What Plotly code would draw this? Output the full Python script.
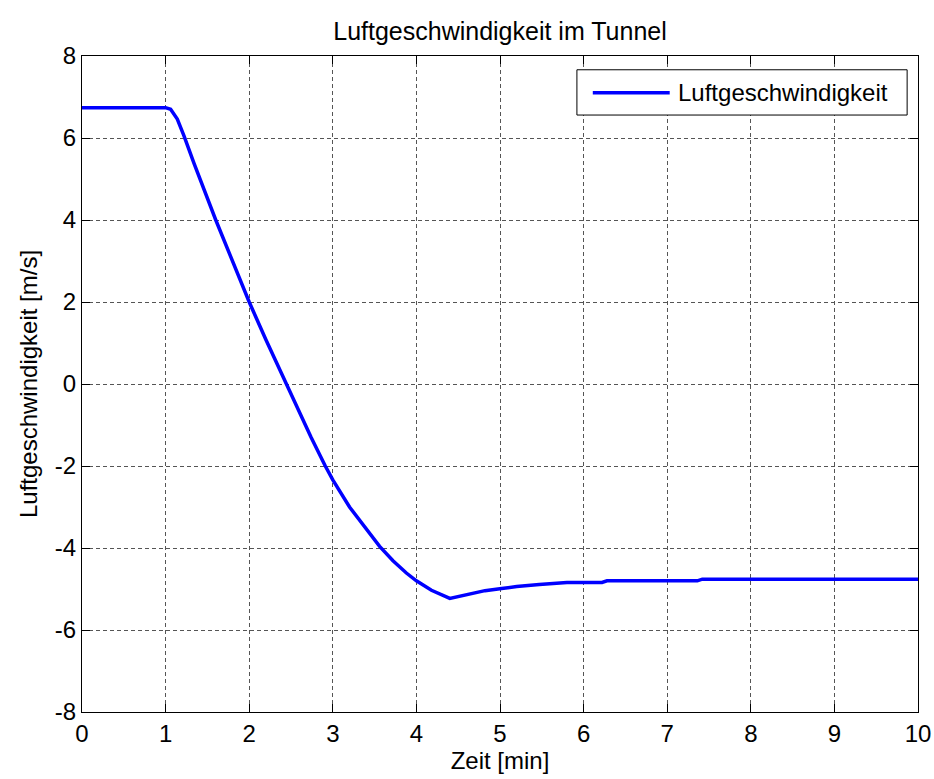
import plotly.graph_objects as go

zeit_min = [0, 1.0, 1.06, 1.14, 1.22, 1.34, 1.60, 1.80, 2.0, 2.2, 2.44, 2.58, 2.74,
            2.91, 3.0, 3.2, 3.4, 3.56, 3.72, 3.88, 4.0, 4.18, 4.40, 4.58, 4.82,
            5.02, 5.20, 5.47, 5.80, 6.22, 6.28, 7.36, 7.42, 10]
geschw = [6.74, 6.74, 6.70, 6.46, 6.05, 5.38, 4.0, 3.0, 2.0, 1.08, 0.0, -0.63, -1.30,
          -2.0, -2.34, -3.0, -3.55, -3.96, -4.31, -4.61, -4.80, -5.03, -5.23,
          -5.15, -5.04, -4.99, -4.94, -4.89, -4.84, -4.84, -4.80, -4.80, -4.76, -4.76]

x_ticks = [0, 1, 2, 3, 4, 5, 6, 7, 8, 9, 10]
y_ticks = [-8, -6, -4, -2, 0, 2, 4, 6, 8]
y_ticktext = ["-8", "-6", "-4", "-2", "0", "2", "4", "6", "8"]

FONT = "Liberation Sans, Arial, sans-serif"
FS = 24

fig = go.Figure()
fig.add_trace(go.Scatter(x=zeit_min, y=geschw, mode="lines",
                         name="Luftgeschwindigkeit", showlegend=False,
                         line=dict(color="#0000ff", width=3.5)))

axis_common = dict(
    showgrid=True, gridcolor="#555555", griddash="4px,3px", gridwidth=1,
    showline=True, linecolor="black", linewidth=1, mirror="ticks",
    ticks="inside", ticklen=8, tickcolor="black", zeroline=False,
    automargin=False,
    tickfont=dict(family=FONT, size=FS, color="black"),
)

fig.update_layout(
    width=934, height=779,
    paper_bgcolor="white", plot_bgcolor="white",
    margin=dict(l=82, r=16, t=56, b=67),
    title=dict(text="Luftgeschwindigkeit im Tunnel", x=0.5, xanchor="center",
               xref="paper",
               y=1 - 31/779, yanchor="middle",
               font=dict(family=FONT, size=FS + 1, color="black")),
    xaxis=dict(range=[0, 10], tickvals=x_ticks,
               title=dict(text="Zeit [min]", standoff=6,
                          font=dict(family=FONT, size=FS, color="black")),
               **axis_common),
    yaxis=dict(range=[-8, 8], tickvals=y_ticks, ticktext=y_ticktext,
               title=dict(text="Luftgeschwindigkeit [m/s]", standoff=10,
                          font=dict(family=FONT, size=FS, color="black")),
               **axis_common),
    showlegend=False,
)

# legend box drawn like the original (long line sample)
fig.add_shape(type="rect", xref="paper", yref="paper",
              x0=0.592, x1=0.987, y0=0.910, y1=0.979,
              line=dict(color="black", width=1), fillcolor="white", layer="above")
fig.add_shape(type="line", xref="paper", yref="paper",
              x0=0.611, x1=0.703, y0=0.944, y1=0.944,
              line=dict(color="#0000ff", width=3.5), layer="above")
fig.add_annotation(text="Luftgeschwindigkeit", xref="paper", yref="paper",
                   x=0.710, y=0.944, xanchor="left", yanchor="middle",
                   showarrow=False,
                   font=dict(family=FONT, size=FS, color="black"))

fig.write_html("out.html",
               config={"displayModeBar": False},
               post_script="document.body.style.margin='0';"
                           "document.body.style.overflow='hidden';"
                           "document.documentElement.style.overflow='hidden';")
